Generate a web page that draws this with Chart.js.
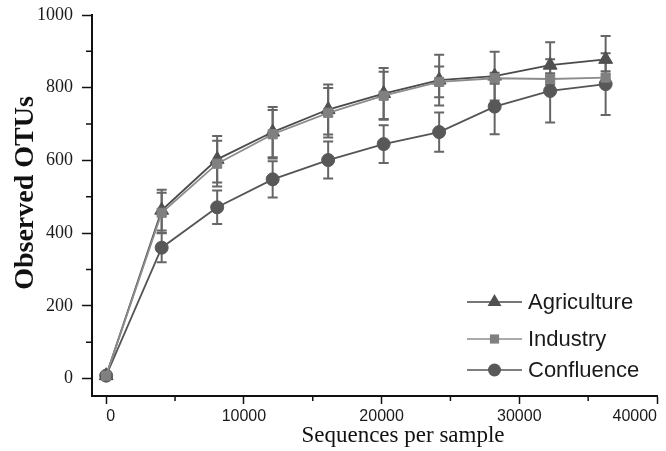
<!DOCTYPE html>
<html>
<head>
<meta charset="utf-8">
<script src="https://cdn.jsdelivr.net/npm/chart.js@4.4.1/dist/chart.umd.min.js"></script>
<style>
  html, body { margin: 0; padding: 0; background: #fff; }
  #wrap { width: 666px; height: 451px; }
</style>
</head>
<body>
<div id="wrap"><canvas id="otuChart" width="666" height="451"></canvas></div>
<script>
// rarefaction depths (sequences per sample)
const depths = [0, 4030, 8060, 12090, 16120, 20150, 24180, 28210, 32240, 36270];

// observed OTUs, mean and error per depth
const agriculture    = [8, 463, 603, 678, 740, 784, 821, 832, 862, 878];
const agricultureErr = [3, 56, 64, 69, 69, 70, 70, 67, 63, 64];
const industry       = [8, 456, 591, 672, 731, 778, 816, 826, 824, 828];
const industryErr    = [3, 55, 63, 67, 68, 66, 42, 15, 16, 17];
const confluence     = [8, 360, 471, 548, 601, 645, 678, 748, 791, 810];
const confluenceErr  = [3, 40, 46, 50, 51, 52, 54, 76, 87, 85];

const xTicks = [0, 10000, 20000, 30000, 40000];
const yTicks = [0, 200, 400, 600, 800, 1000];

const xTitle = 'Sequences per sample';
const yTitle = 'Observed OTUs';

const toPoints = vals => depths.map((d, i) => ({ x: d, y: vals[i] }));

function drawMarker(ctx, style, x, y, r) {
    ctx.beginPath();
    if (style === 'triangle') {
        ctx.moveTo(x, y - r);
        ctx.lineTo(x + r * 0.866, y + r * 0.5);
        ctx.lineTo(x - r * 0.866, y + r * 0.5);
        ctx.closePath();
    } else if (style === 'rect') {
        const s = r * Math.SQRT1_2;
        ctx.rect(x - s, y - s, 2 * s, 2 * s);
    } else {
        ctx.arc(x, y, r, 0, Math.PI * 2);
    }
    ctx.fill();
}

// vertical error bars with caps, drawn under the markers
const errorBars = {
    id: 'errorBars',
    beforeDatasetsDraw(chart) {
        const { ctx, scales: { x, y } } = chart;
        ctx.save();
        ctx.strokeStyle = '#666';
        ctx.lineWidth = 2;
        chart.data.datasets.forEach((ds, di) => {
            if (!chart.isDatasetVisible(di)) return;
            ds.data.forEach((pt, i) => {
                const err = ds.errors[i];
                const px = x.getPixelForValue(pt.x);
                const top = y.getPixelForValue(pt.y + err);
                const bot = y.getPixelForValue(pt.y - err);
                ctx.beginPath();
                ctx.moveTo(px, top); ctx.lineTo(px, bot);
                ctx.moveTo(px - 5, top); ctx.lineTo(px + 5, top);
                ctx.moveTo(px - 5, bot); ctx.lineTo(px + 5, bot);
                ctx.stroke();
            });
        });
        ctx.restore();
    }
};

// minor ticks halfway between the major ones
const minorTicks = {
    id: 'minorTicks',
    afterDraw(chart) {
        const { ctx, scales: { x, y } } = chart;
        ctx.save();
        ctx.strokeStyle = '#111';
        ctx.lineWidth = 1.5;
        ctx.beginPath();
        for (let i = 1; i < y.ticks.length; i++) {
            const py = y.getPixelForValue((y.ticks[i - 1].value + y.ticks[i].value) / 2);
            ctx.moveTo(y.right - 6, py); ctx.lineTo(y.right, py);
        }
        for (let i = 1; i < x.ticks.length; i++) {
            const px = x.getPixelForValue((x.ticks[i - 1].value + x.ticks[i].value) / 2);
            ctx.moveTo(px, x.top); ctx.lineTo(px, x.top + 5);
        }
        ctx.stroke();
        ctx.restore();
    }
};

// axis titles (the original sits them off the axis centre)
const axisTitles = {
    id: 'axisTitles',
    afterDraw(chart) {
        const ctx = chart.ctx;
        ctx.save();
        ctx.fillStyle = '#111';
        ctx.textAlign = 'center';
        ctx.textBaseline = 'middle';
        ctx.font = '23px "Liberation Serif", "Times New Roman", serif';
        ctx.fillText(xTitle, 403, 436);
        ctx.translate(26, 193);
        ctx.rotate(-Math.PI / 2);
        ctx.font = 'bold 28px "Liberation Serif", "Times New Roman", serif';
        ctx.fillText(yTitle, 0, 0);
        ctx.restore();
    }
};

// legend inside the plot, line + marker + label
const insideLegend = {
    id: 'insideLegend',
    afterDraw(chart) {
        const ctx = chart.ctx;
        const rows = [302, 339, 370];
        ctx.save();
        ctx.font = '22px "Liberation Sans", Arial, sans-serif';
        ctx.textBaseline = 'middle';
        chart.data.datasets.forEach((ds, i) => {
            const yy = rows[i];
            ctx.strokeStyle = ds.borderColor;
            ctx.lineWidth = 1.5;
            ctx.beginPath();
            ctx.moveTo(467, yy); ctx.lineTo(522, yy);
            ctx.stroke();
            ctx.fillStyle = ds.pointBackgroundColor;
            drawMarker(ctx, ds.pointStyle, 494.5, yy, ds.pointRadius);
            ctx.fillStyle = '#1a1a1a';
            ctx.fillText(ds.label, 528, yy + 1);
        });
        ctx.restore();
    }
};

const ctx = document.getElementById('otuChart').getContext('2d');
new Chart(ctx, {
    type: 'line',
    data: {
        datasets: [
            {
                label: 'Agriculture', data: toPoints(agriculture), errors: agricultureErr,
                borderColor: '#4a4a4a', borderWidth: 1.8,
                pointStyle: 'triangle', pointRadius: 8,
                pointBackgroundColor: '#505050', pointBorderColor: '#505050', pointBorderWidth: 1,
                order: 2
            },
            {
                label: 'Industry', data: toPoints(industry), errors: industryErr,
                borderColor: '#8c8c8c', borderWidth: 1.8,
                pointStyle: 'rect', pointRadius: 6.5,
                pointBackgroundColor: '#808080', pointBorderColor: '#808080', pointBorderWidth: 1,
                order: 1
            },
            {
                label: 'Confluence', data: toPoints(confluence), errors: confluenceErr,
                borderColor: '#555555', borderWidth: 1.8,
                pointStyle: 'circle', pointRadius: 6.5,
                pointBackgroundColor: '#585858', pointBorderColor: '#585858', pointBorderWidth: 1,
                order: 3
            }
        ]
    },
    options: {
        responsive: false,
        animation: false,
        layout: { padding: { left: 0, top: 15, right: 5, bottom: 0 } },
        plugins: { legend: { display: false }, tooltip: { enabled: false } },
        scales: {
            x: {
                type: 'linear',
                min: -1030,
                max: 40000,
                afterBuildTicks: s => { s.ticks = xTicks.map(v => ({ value: v })); },
                afterFit: s => { s.height = 55; s.paddingLeft = 0; s.paddingRight = 0; },
                border: { display: true, color: '#111', width: 2 },
                grid: { drawOnChartArea: false, tickLength: 8, tickColor: '#111', tickWidth: 1.5 },
                ticks: {
                    align: 'inner',
                    padding: 3,
                    color: '#1a1a1a',
                    callback: v => String(v),
                    font: { family: "'Liberation Sans', Arial, sans-serif", size: 16 }
                }
            },
            y: {
                type: 'linear',
                min: -48,
                max: 1000,
                afterBuildTicks: s => { s.ticks = yTicks.map(v => ({ value: v })); },
                afterFit: s => { s.width = 92; s.paddingTop = 0; s.paddingBottom = 0; },
                border: { display: true, color: '#111', width: 2 },
                grid: { drawOnChartArea: false, tickLength: 10, tickColor: '#111', tickWidth: 1.5 },
                ticks: {
                    padding: 9,
                    color: '#1a1a1a',
                    callback: v => String(v),
                    font: { family: "'Liberation Serif', 'Times New Roman', serif", size: 18 }
                }
            }
        }
    },
    plugins: [errorBars, minorTicks, axisTitles, insideLegend]
});
</script>
</body>
</html>
